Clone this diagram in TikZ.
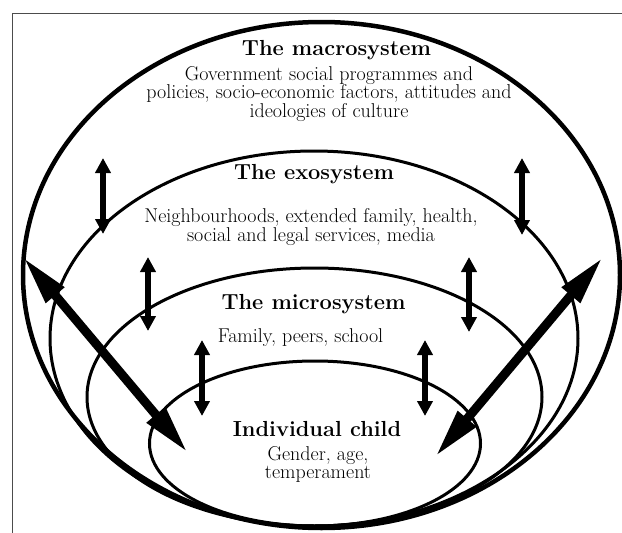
\documentclass[tikz,border=0pt]{standalone}
\usepackage{tikz}
\usetikzlibrary{arrows.meta}

\begin{document}
\begin{tikzpicture}[x=1pt, y=-1pt,
		title/.style={font=\fontsize{21.8}{24}\selectfont\bfseries, inner sep=0pt},
		body/.style={font=\fontsize{20}{18.5}\selectfont, align=center, inner sep=0pt},
		sphere/.style={draw=black, line width=3pt}]

		\useasboundingbox (0,0) rectangle (622,533);
		\draw[line width=1pt, black!70] (622,13) -- (12,13) -- (12,533);

		% the four nested systems
		\draw[sphere, line width=4.5pt] (321.5,275) ellipse [x radius=298.5, y radius=253];
		\draw[sphere] (314,338.5) ellipse [x radius=264, y radius=187.5];
		\draw[sphere] (314.5,397) ellipse [x radius=227.5, y radius=129];
		\draw[sphere] (315,443.5) ellipse [x radius=165.5, y radius=82.5];

		\node[title] (macro) at (336.5,50) {The macrosystem};
		\node[body] (macrotxt) at (329,94) {Government social programmes and\\
			policies, socio-economic factors, attitudes and\\ ideologies of culture};
		\node[title] (exo) at (314,174) {The exosystem};
		\node[body] (exotxt) at (311,227) {Neighbourhoods, extended family, health,\\
			social and legal services, media};
		\node[title] (micro) at (313.5,304) {The microsystem};
		\node[body] (microtxt) at (300.5,338) {Family, peers, school};
		\node[title] (child) at (317,429) {Individual child};
		\node[body] (childtxt) at (318,464.5) {Gender, age,\\ temperament};

		% arrow ends
		\coordinate (l1t) at (103,158);
		\coordinate (l1b) at (103,234);
		\coordinate (r1t) at (522,158);
		\coordinate (r1b) at (522,235);
		\coordinate (l2t) at (148,257);
		\coordinate (l2b) at (148,331);
		\coordinate (r2t) at (469,257);
		\coordinate (r2b) at (469,332);
		\coordinate (l3t) at (202,340);
		\coordinate (l3b) at (202,416);
		\coordinate (r3t) at (425,340);
		\coordinate (r3b) at (425,416);
		\coordinate (lout) at (23,257);
		\coordinate (lin) at (188,453);
		\coordinate (rout) at (603,257);
		\coordinate (rin) at (435,457);

		\begin{scope}[>={Triangle[length=15pt, width=15pt]}, line width=6pt]
			\path [<->] (l1t) edge (l1b);
			\path [<->] (r1t) edge (r1b);
			\path [<->] (l2t) edge (l2b);
			\path [<->] (r2t) edge (r2b);
			\path [<->] (l3t) edge (l3b);
			\path [<->] (r3t) edge (r3b);
		\end{scope}

		\begin{scope}[>={Triangle[length=50pt, width=22pt]}, line width=9pt]
			\path [<->] (lout) edge (lin);
			\path [<->] (rout) edge (rin);
		\end{scope}

	\end{tikzpicture}
\end{document}
